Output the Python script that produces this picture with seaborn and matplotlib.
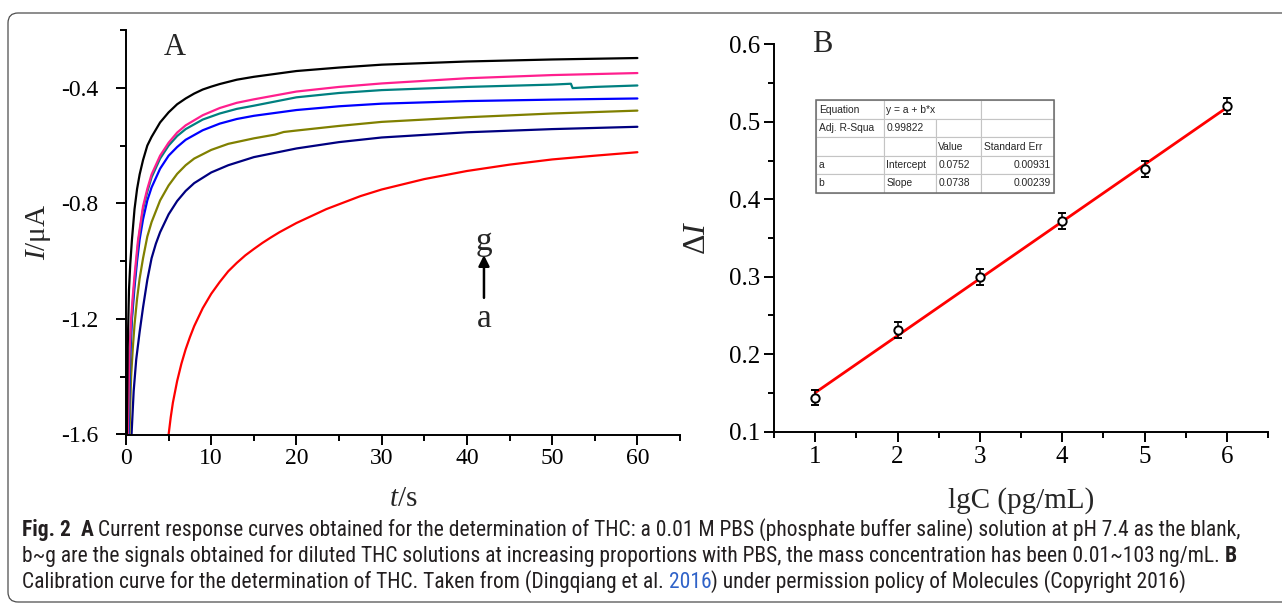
import matplotlib
matplotlib.use("Agg")
import matplotlib.pyplot as plt
import seaborn as sns
from matplotlib import font_manager
from matplotlib.patches import FancyBboxPatch, Rectangle

# ── data: panel A, chronoamperometric curves (t in s, I in uA) ───────────────
T_A = [5.0, 5.25, 5.5, 6.0, 6.5, 7.0, 7.5, 8.0, 9.0, 10.0, 11.0, 12.0, 13.0, 14.0,
       15.0, 16.0, 17.0, 18.0, 20.0, 23.5, 27.5, 30.0, 35.0, 40.0, 45.0, 50.0,
       55.0, 60.0]
I_A = [-1.6, -1.54, -1.49, -1.415, -1.355, -1.305, -1.263, -1.225, -1.163,
       -1.113, -1.072, -1.035, -1.006, -0.98, -0.958, -0.937, -0.918, -0.9,
       -0.868, -0.82, -0.775, -0.752, -0.716, -0.688, -0.666, -0.648, -0.635,
       -0.623]

T_B = [0.65, 0.9, 1.2, 1.6, 2.0, 2.5, 3.0, 3.5, 4.0, 5.0, 6.0, 7.0, 8.0, 10.0,
       12.0, 15.0, 20.0, 25.0, 30.0, 40.0, 50.0, 60.0]
I_B = [-1.6, -1.45, -1.34, -1.245, -1.16, -1.065, -0.99, -0.94, -0.9, -0.838,
       -0.792, -0.757, -0.73, -0.693, -0.668, -0.64, -0.61, -0.588, -0.572,
       -0.554, -0.543, -0.535]

T_C = [0.4, 0.6, 0.8, 1.0, 1.3, 1.6, 2.0, 2.5, 3.0, 4.0, 5.0, 6.0, 7.0, 8.0,
       10.0, 12.0, 15.0, 17.5, 18.5, 20.0, 25.0, 30.0, 40.0, 50.0, 60.0]
I_C = [-1.6, -1.4, -1.3, -1.22, -1.13, -1.06, -0.99, -0.915, -0.865, -0.79,
       -0.738, -0.698, -0.668, -0.645, -0.615, -0.594, -0.575, -0.562, -0.553,
       -0.548, -0.532, -0.518, -0.502, -0.489, -0.479]

T_D = [0.3, 0.5, 0.7, 1.0, 1.3, 1.6, 2.0, 2.5, 3.0, 4.0, 5.0, 6.0, 7.0, 9.0,
       11.0, 13.0, 15.0, 20.0, 25.0, 30.0, 40.0, 50.0, 60.0]
I_D = [-1.6, -1.33, -1.2, -1.09, -1.0, -0.925, -0.855, -0.79, -0.745, -0.68,
       -0.635, -0.605, -0.58, -0.547, -0.524, -0.508, -0.497, -0.477, -0.464,
       -0.455, -0.446, -0.441, -0.437]

T_E = [0.25, 0.45, 0.6, 0.8, 1.0, 1.45, 2.0, 2.5, 3.0, 4.0, 5.0, 6.0, 7.0, 9.0,
       11.0, 13.0, 15.0, 20.0, 25.0, 30.0, 40.0, 50.0, 52.2, 52.4, 55.0, 60.0]
I_E = [-1.6, -1.32, -1.23, -1.14, -1.07, -0.93, -0.82, -0.76, -0.71, -0.645,
       -0.6, -0.567, -0.543, -0.51, -0.489, -0.473, -0.462, -0.433, -0.418,
       -0.408, -0.397, -0.389, -0.386, -0.401, -0.397, -0.392]

T_F = [0.2, 0.4, 0.6, 0.8, 1.0, 1.4, 2.0, 2.5, 3.0, 4.0, 5.0, 6.0, 7.0, 9.0,
       11.0, 13.0, 15.0, 20.0, 25.0, 30.0, 40.0, 50.0, 60.0]
I_F = [-1.6, -1.32, -1.2, -1.12, -1.05, -0.93, -0.81, -0.75, -0.7, -0.635,
       -0.59, -0.555, -0.53, -0.495, -0.47, -0.452, -0.44, -0.413, -0.397,
       -0.385, -0.367, -0.356, -0.349]

T_G = [0.1, 0.2, 0.35, 0.5, 0.7, 1.0, 1.3, 1.6, 2.0, 2.5, 3.0, 4.0, 5.0, 6.0,
       7.0, 8.0, 9.0, 10.0, 11.0, 13.0, 15.0, 20.0, 25.0, 30.0, 40.0, 50.0, 60.0]
I_G = [-1.6, -1.3, -1.1, -1.01, -0.925, -0.82, -0.75, -0.7, -0.65, -0.6, -0.57,
       -0.52, -0.485, -0.457, -0.437, -0.42, -0.406, -0.396, -0.387, -0.372,
       -0.362, -0.342, -0.33, -0.32, -0.309, -0.302, -0.297]

CURVE_COLORS = ["#ff0000", "#000080", "#808000", "#0000ff", "#008080", "#ff1f8e", "#000000"]

# ── data: panel B, calibration ───────────────────────────────────────────────
LOG_C = [1, 2, 3, 4, 5, 6]
DELTA_I = [0.144, 0.231, 0.300, 0.372, 0.439, 0.520]
DELTA_ERR = [0.010, 0.010, 0.0105, 0.0103, 0.0099, 0.0101]

FIT_A, FIT_A_ERR = "0.0752", "0.00931"
FIT_B, FIT_B_ERR = "0.0738", "0.00239"
ADJ_R2 = "0.99822"
TABLE_ROWS = [
    ["Equation", "y = a + b*x", "", ""],
    ["Adj. R-Squa", ADJ_R2, "", ""],
    ["", "", "Value", "Standard Err"],
    ["a", "Intercept", FIT_A, FIT_A_ERR],
    ["b", "Slope", FIT_B, FIT_B_ERR],
]

CAPTION = [
    [("Fig. 2", True, None), ("A", True, 2), ("Current response curves obtained for the determination of THC: "
     "a 0.01 M PBS (phosphate buffer saline) solution at pH 7.4 as the blank,", False, 1)],
    [("b~g are the signals obtained for diluted THC solutions at increasing proportions with PBS, "
      "the mass concentration has been 0.01~103\u2009ng/mL.", False, None), ("B", True, 1)],
    [("Calibration curve for the determination of THC. Taken from (Dingqiang et al.", False, None),
     ("2016", "link", 1), (") under permission policy of Molecules (Copyright 2016)", False, 0)],
]

# ── style ────────────────────────────────────────────────────────────────────
sns.set_theme(style="ticks")
plt.rcParams.update({
    "font.family": ["Liberation Serif", "DejaVu Serif"],
    "mathtext.fontset": "custom",
    "mathtext.rm": "Liberation Serif",
    "mathtext.it": "Liberation Serif:italic",
    "axes.unicode_minus": False,
    "axes.linewidth": 1.4,
    "axes.edgecolor": "black",
    "xtick.color": "black",
    "ytick.color": "black",
})

W, H = 1282, 607
fig = plt.figure(figsize=(W / 100, H / 100), dpi=100)


def axes_box(left, top, right, bottom):
    return [left / W, 1 - bottom / H, (right - left) / W, (bottom - top) / H]


axA = fig.add_axes(axes_box(126, 30, 680, 434.5))
axB = fig.add_axes(axes_box(774, 44.3, 1268, 431.7))

# ── panel A ──────────────────────────────────────────────────────────────────
curves = [(T_A, I_A), (T_B, I_B), (T_C, I_C), (T_D, I_D), (T_E, I_E), (T_F, I_F), (T_G, I_G)]
for (t, cur), color in zip(curves, CURVE_COLORS):
    sns.lineplot(x=t, y=cur, color=color, lw=1.6, ax=axA)

axA.set_xlim(0, 65)
axA.set_ylim(-1.6, -0.2)
axA.set_xticks(range(0, 61, 10))
axA.set_xticks(range(5, 66, 10), minor=True)
axA.set_yticks([-1.6, -1.2, -0.8, -0.4])
axA.set_yticks([-1.4, -1.0, -0.6, -0.2], minor=True)
axA.set_xlabel("$t$/s", fontsize=21, labelpad=12)
axA.set_ylabel("$I$/μA", fontsize=21, labelpad=6)
axA.tick_params(which="major", length=7, width=1.4, labelsize=17)
axA.tick_params(which="minor", length=4, width=1.4)
axA.tick_params(axis="y", pad=13)
axA.tick_params(axis="x", pad=3)
axA.text(0.088, 0.938, "A", transform=axA.transAxes, fontsize=22, ha="center", va="baseline")
axA.annotate("", xy=(42.0, -0.979), xytext=(42.0, -1.127),
             arrowprops=dict(arrowstyle="-|>", color="black", lw=1.8, mutation_scale=16,
                             shrinkA=0, shrinkB=0))
axA.text(42.0, -0.962, "g", fontsize=24, ha="center", va="baseline")
axA.text(42.0, -1.229, "a", fontsize=24, ha="center", va="baseline")
sns.despine(ax=axA)

# ── panel B ──────────────────────────────────────────────────────────────────
sns.regplot(x=LOG_C, y=DELTA_I, ax=axB, scatter=False, ci=None, truncate=True,
            color="#ff0000", line_kws={"lw": 2.0, "zorder": 2})
axB.errorbar(LOG_C, DELTA_I, yerr=DELTA_ERR, fmt="o", ms=6, mfc="white", mec="black",
             mew=1.4, ecolor="black", elinewidth=1.1, capsize=3.2, capthick=1.1, zorder=3)

axB.set_xlim(0.5, 6.5)
axB.set_ylim(0.1, 0.6)
axB.set_xticks(LOG_C)
axB.set_xticks([0.5, 1.5, 2.5, 3.5, 4.5, 5.5, 6.5], minor=True)
axB.set_yticks([0.1, 0.2, 0.3, 0.4, 0.5, 0.6])
axB.set_yticklabels(["0.1", "0.2", "0.3", "0.4", "0.5", "0.6"])
axB.set_yticks([0.15, 0.25, 0.35, 0.45, 0.55], minor=True)
axB.set_xlabel("lgC (pg/mL)", fontsize=21, labelpad=14)
axB.set_ylabel("Δ$I$", fontsize=23, labelpad=12)
axB.tick_params(which="major", length=7, width=1.4, labelsize=18)
axB.tick_params(which="minor", length=4, width=1.4)
axB.tick_params(axis="y", pad=3)
axB.tick_params(axis="x", pad=3)
axB.text(0.097, 0.981, "B", transform=axB.transAxes, fontsize=22, ha="center", va="baseline")
sns.despine(ax=axB)

TABLE_BOX = [0.085, 0.617, 0.482, 0.238]
tbl = axB.table(cellText=TABLE_ROWS, colWidths=[0.287, 0.219, 0.187, 0.307],
                bbox=TABLE_BOX, cellLoc="left")
tbl.auto_set_font_size(False)
for (r, c), cell in tbl.get_celld().items():
    cell.set_edgecolor("#c4c4c4")
    cell.set_linewidth(0.8)
    cell.PAD = 0.04
    txt = cell.get_text()
    txt.set_fontsize(7.4)
    txt.set_fontfamily(["Liberation Sans", "DejaVu Sans"])
    if c == 3 and r >= 3:
        cell._loc = "right"
        txt.set_horizontalalignment("right")
tbl[0, 1].visible_edges = "BTL"
tbl[0, 2].visible_edges = "BTR"
axB.add_patch(Rectangle((TABLE_BOX[0], TABLE_BOX[1]), TABLE_BOX[2], TABLE_BOX[3],
                        transform=axB.transAxes, fill=False, edgecolor="#6a6a6a",
                        lw=1.1, zorder=10, clip_on=False))

# ── frame and caption ────────────────────────────────────────────────────────
frame = FancyBboxPatch((8 / 100, (H - 602) / 100), 14.0, (602 - 13) / 100,
                       boxstyle="round,pad=0,rounding_size=0.1",
                       transform=fig.dpi_scale_trans, fill=False,
                       edgecolor="#4d4d4d", lw=0.9, clip_on=False)
fig.add_artist(frame)

names = {f.name for f in font_manager.fontManager.ttflist}
CAP_FONT = next((n for n in ["Liberation Sans Narrow", "Roboto Condensed", "Open Sans Condensed",
                              "Noto Sans", "Liberation Sans"] if n in names), "DejaVu Sans")
renderer = fig.canvas.get_renderer()


def run_text(x, y, s, size, style):
    weight = "bold" if style is True else "normal"
    color = "#2f62c8" if style == "link" else "#231f20"
    return fig.text(x, y, s, fontsize=size, fontweight=weight, color=color,
                    family=CAP_FONT, ha="left", va="baseline")


def space_width(size):
    a = run_text(0, 0, "a a", size, False)
    b = run_text(0, 0, "aa", size, False)
    w = (a.get_window_extent(renderer).width - b.get_window_extent(renderer).width) / W
    a.remove()
    b.remove()
    return w


def draw_line(runs, y, size, keep=True):
    x = 22 / W
    sp = space_width(size)
    texts = []
    for s, style, gap in runs:
        if gap:
            x += gap * sp
        t = run_text(x, y, s, size, style)
        x += t.get_window_extent(renderer).width / W
        texts.append(t)
    if not keep:
        for t in texts:
            t.remove()
    return x * W - 22


base = 12
cap_size = base * 1222 / draw_line(CAPTION[0], 0.5, base, keep=False)
for runs, y_px in zip(CAPTION, [536, 562, 588]):
    draw_line(runs, 1 - y_px / H, cap_size)

fig.savefig("out.png", dpi=100)
